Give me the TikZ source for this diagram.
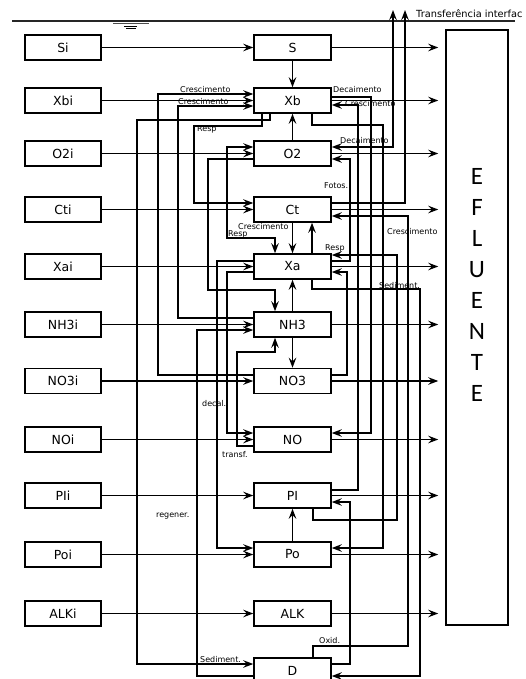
\documentclass[tikz,border=0pt]{standalone}
\usepackage{fontspec}
\setmainfont{DejaVu Sans}
\newfontfamily\eflfont{Carlito}
\usetikzlibrary{arrows.meta}
\begin{document}
\begin{tikzpicture}[x=1pt,y=-1pt,
  box/.style={draw,line width=1.5pt,minimum width=76pt,minimum height=25pt,inner sep=0pt,font=\fontsize{12.5}{14}\selectfont},
  wire/.style={line width=1.4pt},
  arr/.style={wire,-{Stealth[length=10pt,width=7.5pt,inset=3.5pt]}},
  barr/.style={wire,{Stealth[length=10pt,width=7.5pt,inset=3.5pt]}-{Stealth[length=10pt,width=7.5pt,inset=3.5pt]}},
  outarr/.style={arr,shorten >=7pt},
  lbl/.style={font=\fontsize{8}{9}\selectfont,inner sep=0pt,anchor=base west}
]
\useasboundingbox (0,0) rectangle (525,679);

% water line and interface transfer
\draw[line width=1.3pt,black!85] (12,21) -- (515,21);
\draw[line width=1pt,black!70] (113,23.5) -- (149,23.5);
\draw[line width=1pt] (124,26.5) -- (137,26.5);
\draw[line width=1pt] (126,29) -- (136,29);
\node[font=\fontsize{9.8}{11}\selectfont,inner sep=0pt,anchor=base west] (tr) at (416,18) {Transferência interfac};

% input boxes
\foreach \n/\t/\y in {Si/Si/47.5,Xbi/Xbi/100.5,O2i/O2i/153.5,Cti/Cti/209.5,Xai/Xai/266.5,NH3i/NH3i/324.5,NO3i/NO3i/381,NOi/NOi/439.5,PIi/PIi/495.5,Poi/Poi/554.5,ALKi/ALKi/613.5}
  \node[box] (\n) at (63,\y) {\t};
% state boxes
\foreach \n/\t/\y in {S/S/47.5,Xb/Xb/100.5,O2/O2/153.5,Ct/Ct/209.5,Xa/Xa/266.5,NH3/NH3/324.5,NO3/NO3/381,NO/NO/439.5,PI/PI/495.5,Po/Po/554.5,ALK/ALK/613.5,D/D/670.5}
  \node[box,minimum width=77pt] (\n) at (292.5,\y) {\t};

% effluent
\node[draw,line width=1.5pt,minimum width=62pt,minimum height=595pt,inner sep=0pt] (EF) at (477,327.5) {};
\node[font=\eflfont\fontsize{25}{31}\selectfont,align=center,inner sep=0pt] (eft) at (477,284.5) {E\\F\\L\\U\\E\\N\\T\\E};

% inputs and outputs
\foreach \a/\b in {Si/S,Xbi/Xb,O2i/O2,Cti/Ct,Xai/Xa,NH3i/NH3,NO3i/NO3,NOi/NO,PIi/PI,Poi/Po,ALKi/ALK}{
  \draw[arr] (\a.east) -- (\b.west);
  \draw[outarr] (\b.east) -- (EF.west |- \b.east);
}

% vertical links between state boxes
\draw[arr] (S.south) -- (Xb.north);
\draw[arr] (O2.north) -- (Xb.south);
\draw[arr] (Ct.south) -- (Xa.north);
\draw[arr] (312,0 |- Xa.north) -- (312,0 |- Ct.south);
\draw[arr] (NH3.north) -- (Xa.south);
\draw[arr] (NH3.south) -- (NO3.north);
\draw[arr] (Po.north) -- (PI.south);

% left side links
\draw[arr] (270,0 |- Xb.south) -- (270,120) -- (137,120) -- (137,664) -- (D.west |- 0,664);
\draw[arr] (262,0 |- Xb.south) -- (262,126) -- (194,126) -- (194,203) -- (Ct.west |- 0,203);
\draw[arr] (NO3.west |- 0,375) -- (158,375) -- (158,94) -- (Xb.west |- 0,94);
\draw[arr] (NH3.west |- 0,318) -- (178,318) -- (178,106) -- (Xb.west |- 0,106);
\draw[barr] (O2.west |- 0,147) -- (227,147) -- (227,238) -- (275,238) -- (275,0 |- Xa.north);
\draw[arr] (O2.west |- 0,159) -- (208,159) -- (208,290) -- (275,290) -- (275,0 |- NH3.north);
\draw[arr] (Xa.west |- 0,261) -- (217,261) -- (217,548) -- (Po.west |- 0,548);
\draw[arr] (Xa.west |- 0,272) -- (227,272) -- (227,433) -- (NO.west |- 0,433);
\draw[arr] (NO.west |- 0,446) -- (237,446) -- (237,352) -- (275,352) -- (275,0 |- NH3.south);
\draw[arr] (D.west |- 0,676) -- (197,676) -- (197,330) -- (NH3.west |- 0,330);

% right side links
\draw[arr] (Xb.east |- 0,97) -- (371,97) -- (371,433) -- (NO.east |- 0,433);
\draw[arr] (PI.east |- 0,490) -- (358,490) -- (358,105) -- (Xb.east |- 0,105);
\draw[arr] (312,0 |- Xb.south) -- (312,125) -- (383,125) -- (383,548) -- (Po.east |- 0,548);
\draw[barr] (O2.east |- 0,147) -- (393,147) -- (393,10);
\draw[arr] (Ct.east |- 0,203) -- (405,203) -- (405,10);
\draw[arr] (Xa.east |- 0,261) -- (350,261) -- (350,159) -- (O2.east |- 0,159);
\draw[arr] (NO3.east |- 0,375) -- (347,375) -- (347,272) -- (Xa.east |- 0,272);
\draw[arr] (313,0 |- PI.south) -- (313,520) -- (397,520) -- (397,255) -- (Xa.east |- 0,255);
\draw[arr] (313,0 |- D.north) -- (313,646) -- (408,646) -- (408,216) -- (Ct.east |- 0,216);
\draw[arr] (312,0 |- Xa.south) -- (312,289) -- (420,289) -- (420,676) -- (D.east |- 0,676);
\draw[arr] (D.east |- 0,664) -- (350,664) -- (350,502) -- (PI.east |- 0,502);

% labels
\node[lbl] (l1) at (180,92.5) {Crescimento};
\node[lbl] (l2) at (178,104.5) {Crescimento};
\node[lbl] (l3) at (333,93) {Decaimento};
\node[lbl] (l4) at (345,107) {Crescimento};
\node[lbl] (l5) at (197,132) {Resp};
\node[lbl] (l6) at (340,144) {Decaimento};
\node[lbl] (l7) at (324,188) {Fotos.};
\node[lbl] (l8) at (238,229) {Crescimento};
\node[lbl] (l9) at (228,236.5) {Resp};
\node[lbl] (l10) at (325,250) {Resp};
\node[lbl] (l11) at (387,234) {Crescimento};
\node[lbl] (l12) at (379,288.5) {Sediment.};
\node[lbl] (l13) at (202,406) {decal.};
\node[lbl] (l14) at (222,457) {transf.};
\node[lbl] (l15) at (156,517) {regener.};
\node[lbl] (l16) at (319,643) {Oxid.};
\node[lbl] (l17) at (200,662) {Sediment.};
\end{tikzpicture}
\end{document}
